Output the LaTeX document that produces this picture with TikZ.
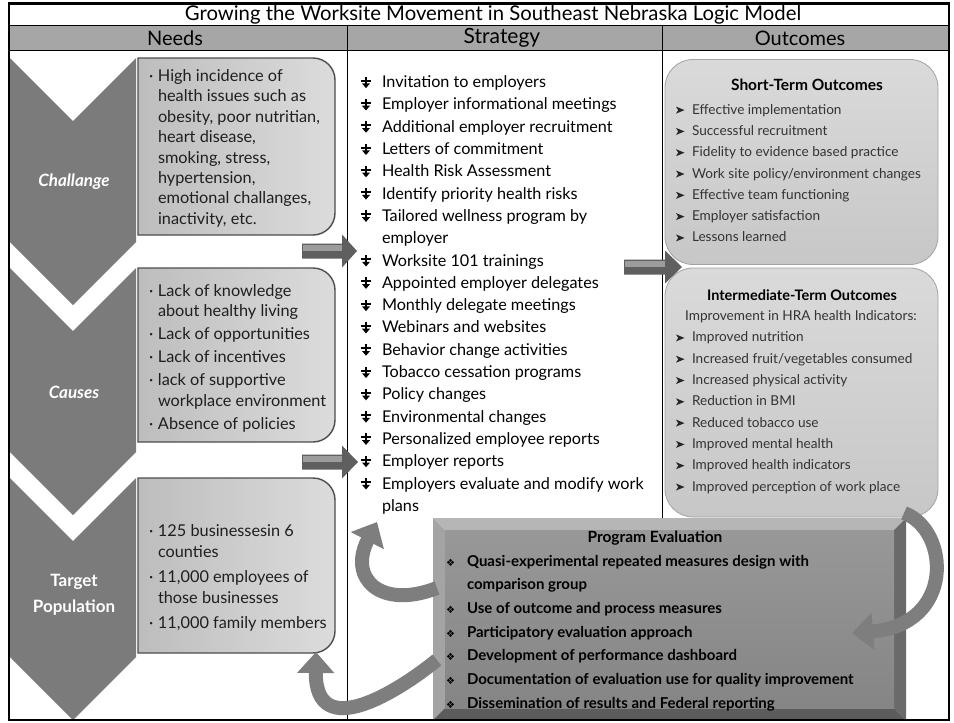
\documentclass[tikz,border=0pt]{standalone}
\usepackage{fontspec}
\setmainfont{Lato}
\newfontfamily\symf{DejaVu Sans}
\usetikzlibrary{calc,arrows.meta}
\definecolor{hdrgray}{HTML}{A6A6A6}
\definecolor{chevgray}{HTML}{7B7B7B}
\definecolor{nboxdark}{HTML}{BDBDBD}
\definecolor{nboxlight}{HTML}{DCDCDC}
\definecolor{nboxline}{HTML}{4D4D4D}
\definecolor{oboxtop}{HTML}{DADADA}
\definecolor{oboxbot}{HTML}{C7C7C7}
\definecolor{oboxline}{HTML}{A3A3A3}
\definecolor{curvegray}{HTML}{7E7E7E}
\definecolor{bardark}{HTML}{5F5F5F}
\definecolor{barlight}{HTML}{9C9C9C}
\definecolor{evtop}{HTML}{B6B6B6}
\definecolor{evleft}{HTML}{A4A4A4}
\definecolor{evright}{HTML}{6A6A6A}
\definecolor{evbot}{HTML}{5C5C5C}
\definecolor{evface1}{HTML}{989898}
\definecolor{evface2}{HTML}{858585}
\newcommand{\mydarr}{\tikz[baseline=0pt,x=1pt,y=1pt]{\draw[line width=1.7pt] (5.5,11)--(5.5,3); \draw[line width=2pt] (0.5,7)--(10.5,7); \fill (1.5,4.2)--(9.5,4.2)--(5.5,-0.5)--cycle;}}
\newcommand{\myarrhead}{\tikz[baseline=0pt,x=1pt,y=1pt]{\fill[black!85] (0,0.5)--(8.5,4)--(0,7.5)--(2.2,4)--cycle;}}
\newcommand{\myneedbul}{\makebox[9pt][l]{·}}
\newcommand{\myneedcont}{\hspace*{9pt}}
\newcommand{\mystratbul}{\makebox[22pt][l]{\mydarr}}
\newcommand{\mystratcont}{\hspace*{22pt}}
\newcommand{\myevalcont}{\hspace*{21pt}}
\newcommand{\myoutbul}{\makebox[16pt][l]{\myarrhead}}
\newcommand{\myevalbul}{\makebox[21pt][l]{\symf\fontsize{10}{10}\selectfont ❖}}
\newcommand{\myneedbox}[4]{%
\draw[line width=1.4pt, draw=nboxline, left color=nboxdark, right color=nboxlight] (#1,#2) -- ({#3-22},#2) .. controls ({#3-9.85},#2) and (#3,{#2+9.85}) .. (#3,{#2+22}) -- (#3,{#4-22}) .. controls (#3,{#4-9.85}) and ({#3-9.85},#4) .. ({#3-22},#4) -- (#1,#4) -- cycle;}
\newcommand{\mychev}[2]{%
\fill[chevgray] (10,#1) -- (73,{#1+63}) -- (136,#1) -- (136,#2) -- (73,{#2+63}) -- (10,#2) -- cycle;}
\newcommand{\myblockarr}[4]{%
\fill[bardark] (#1,{#2-7.5}) -- (#3,{#2-7.5}) -- (#3,{#2-16.5}) -- (#4,#2) -- (#3,{#2+16.5}) -- (#3,{#2+7.5}) -- (#1,{#2+7.5}) -- cycle;
\fill[barlight] ({#1+1},{#2-6}) -- (#3,{#2-6}) -- (#3,{#2-0.5}) -- ({#1+1},{#2-0.5}) -- cycle;}
\begin{document}
\begin{tikzpicture}[x=1pt,y=-1pt,
  every node/.style={inner sep=0pt,outer sep=0pt},
  chevlabel/.style={text=white, font=\fontsize{17}{26}\selectfont\bfseries, align=center},
  hdrlabel/.style={font=\fontsize{20}{22}\selectfont},
  needtext/.style={anchor=north west, align=left, text=black!88},
  strattext/.style={anchor=north west, align=left, text=black, font=\fontsize{16.2}{22.3}\selectfont},
  outtext/.style={anchor=north west, align=left, text=black!80, font=\fontsize{13.6}{21.3}\selectfont},
  outtitle/.style={font=\fontsize{15.5}{17}\selectfont\bfseries, text=black},
  obox/.style={draw=oboxline, line width=0.8pt, top color=oboxtop, bottom color=oboxbot, rounded corners=28pt},
  evaltext/.style={anchor=north west, align=left, text=black, font=\fontsize{15}{23.7}\selectfont\bfseries},
  curvearrow/.style={draw=curvegray, line width=14pt, -{Triangle[length=21pt,width=36pt]}},
]
\useasboundingbox (0,0) rectangle (954,723);
\fill[white] (0,0) rectangle (954,723);
% header band and grid
\fill[hdrgray] (9,25) rectangle (949,50);
\draw[line width=1pt] (9,25) -- (949,25);
\draw[line width=1pt] (9,50) -- (949,50);
\draw[line width=1pt] (347,25) -- (347,720);
\draw[line width=1pt] (662,25) -- (662,720);
\node (title) at (493,14.5) {\fontsize{20.3}{20}\selectfont Growing the Worksite Movement in Southeast Nebraska Logic Model};
\node[hdrlabel] (hneeds) at (175,38) {Needs};
\node[hdrlabel, font=\fontsize{21}{22}\selectfont] (hstrat) at (502,38) {Strategy};
\node[hdrlabel] (hout) at (800,38) {Outcomes};
% chevrons
\mychev{58}{242}
\mychev{268}{452}
\mychev{478}{657}
\node[chevlabel, font=\fontsize{17}{26}\selectfont\bfseries\itshape] (c1) at (74,182) {Challange};
\node[chevlabel, font=\fontsize{17}{26}\selectfont\bfseries\itshape] (c2) at (74,392) {Causes};
\node[chevlabel] (c3) at (74,595) {Target\\Population};
% needs boxes
\myneedbox{138}{58}{335}{235}
\myneedbox{138}{268}{335}{442}
\myneedbox{138}{478}{335}{653}
\node[needtext, font=\fontsize{16.3}{20.4}\selectfont] (n1) at (149,67.2) {\strut\myneedbul High incidence of\\
\myneedcont health issues such as\\
\myneedcont obesity, poor nutritian,\\
\myneedcont heart disease,\\
\myneedcont smoking, stress,\\
\myneedcont hypertension,\\
\myneedcont emotional challanges,\\
\myneedcont inactivity, etc.};
\node[needtext, font=\fontsize{16.3}{20.5}\selectfont] (n2) at (149,282) {\strut\myneedbul Lack of knowledge\\
\myneedcont about healthy living\\[2.5pt]
\myneedbul Lack of opportunities\\[2.5pt]
\myneedbul Lack of incentives\\[2.5pt]
\myneedbul lack of supportive\\
\myneedcont workplace environment\\[2.5pt]
\myneedbul Absence of policies};
\node[needtext, font=\fontsize{16.3}{21}\selectfont] (n3) at (149,522) {\strut\myneedbul 125 businessesin 6\\
\myneedcont counties\\[4pt]
\myneedbul 11,000 employees of\\
\myneedcont those businesses\\[4pt]
\myneedbul 11,000 family members};
% strategy list
\node[strattext] (strat) at (360,72) {\strut\mystratbul Invitation to employers\\
\mystratbul Employer informational meetings\\
\mystratbul Additional employer recruitment\\
\mystratbul Letters of commitment\\
\mystratbul Health Risk Assessment\\
\mystratbul Identify priority health risks\\
\mystratbul Tailored wellness program by\\
\mystratcont employer\\
\mystratbul Worksite 101 trainings\\
\mystratbul Appointed employer delegates\\
\mystratbul Monthly delegate meetings\\
\mystratbul Webinars and websites\\
\mystratbul Behavior change activities\\
\mystratbul Tobacco cessation programs\\
\mystratbul Policy changes\\
\mystratbul Environmental changes\\
\mystratbul Personalized employee reports\\
\mystratbul Employer reports\\
\mystratbul Employers evaluate and modify work\\
\mystratcont plans};
% outcomes boxes
\node[obox, minimum width=273pt, minimum height=205pt] (st) at (801.5,162) {};
\node[obox, minimum width=273pt, minimum height=249pt] (it) at (801.5,392.5) {};
\node[outtitle] (sttitle) at (807,85) {Short-Term Outcomes};
\node[outtext] (stlist) at (676,99.2) {\strut\myoutbul Effective implementation\\
\myoutbul Successful recruitment\\
\myoutbul Fidelity to evidence based practice\\
\myoutbul Work site policy/environment changes\\
\myoutbul Effective team functioning\\
\myoutbul Employer satisfaction\\
\myoutbul Lessons learned};
\node[outtitle, font=\fontsize{14.5}{16}\selectfont\bfseries] (ittitle) at (802,295) {Intermediate-Term Outcomes};
\node[font=\fontsize{13.6}{15}\selectfont, text=black!80] (itsub) at (801,317) {Improvement in HRA health Indicators:};
\node[outtext] (itlist) at (676,327) {\strut\myoutbul Improved nutrition\\
\myoutbul Increased fruit/vegetables consumed\\
\myoutbul Increased physical activity\\
\myoutbul Reduction in BMI\\
\myoutbul Reduced tobacco use\\
\myoutbul Improved mental health\\
\myoutbul Improved health indicators\\
\myoutbul Improved perception of work place};
% block arrows
\myblockarr{302}{251}{342}{357}
\myblockarr{624}{267}{665}{682}
\myblockarr{302}{462}{342}{358}
% program evaluation bevel box
\fill[evtop] (433,518) -- (906,518) -- (894,530) -- (445,530) -- cycle;
\fill[evleft] (433,518) -- (445,530) -- (445,708) -- (433,720) -- cycle;
\fill[evright] (906,518) -- (906,720) -- (894,708) -- (894,530) -- cycle;
\fill[evbot] (433,720) -- (906,720) -- (894,708) -- (445,708) -- cycle;
\shade[top color=evface1, bottom color=evface2] (445,530) rectangle (894,708);
\node[minimum width=473pt, minimum height=202pt] (eval) at (669.5,619) {};
\node[font=\fontsize{15.5}{17}\selectfont\bfseries] (evtitle) at (655,538) {Program Evaluation};
\node[evaltext] (evlist) at (446,549.6) {\strut\myevalbul Quasi-experimental repeated measures design with\\
\myevalcont comparison group\\
\myevalbul Use of outcome and process measures\\
\myevalbul Participatory evaluation approach\\
\myevalbul Development of performance dashboard\\
\myevalbul Documentation of evaluation use for quality improvement\\
\myevalbul Dissemination of results and Federal reporting};
% curved arrows
\coordinate (aAend) at (377,522);
\coordinate (aBend) at (316,652);
\draw[curvearrow] ($(eval.west)+(4,-31)$) .. controls (380,610) and (348,578) .. (aAend);
\draw[curvearrow] ($(eval.west)+(4,41)$) .. controls (400,690) and (315,745) .. (aBend);
\draw[curvearrow] (it.south east) ++(-34,-4) .. controls (950,530) and (955,625) .. ($(eval.east)+(-54,14)$);
% outer frame
\draw[line width=1.6pt] (9,720) -- (9,3) -- (949,3) -- (949,720) -- cycle;
\draw[line width=3pt] (8,3) -- (950,3);
\end{tikzpicture}
\end{document}
